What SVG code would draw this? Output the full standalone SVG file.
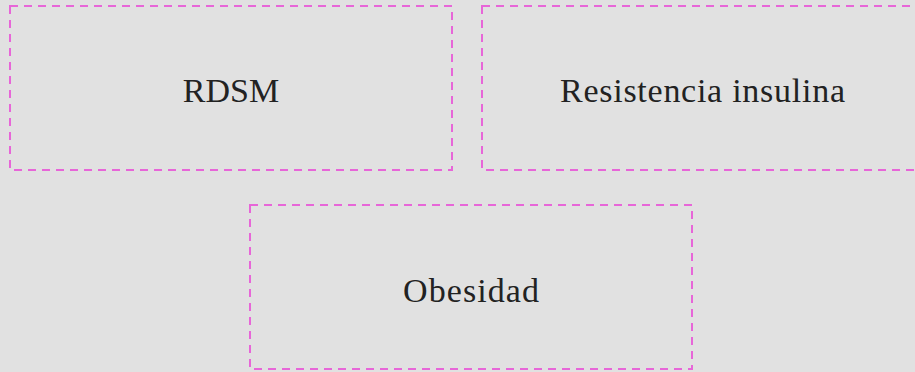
<svg xmlns="http://www.w3.org/2000/svg" width="915" height="372" viewBox="0 0 915 372">
<style>
.box{fill:none;stroke:#e766d8;stroke-width:2;stroke-dasharray:8 6}
.lbl{font-family:"Liberation Serif",serif;font-size:34px;fill:#222;text-anchor:middle}
</style>
<rect width="915" height="372" fill="#e1e1e1"/>
<g id="rdsm"><rect class="box" x="10" y="6" width="442" height="164"/><text class="lbl" x="231" y="102">RDSM</text></g>
<g id="resistencia"><rect class="box" x="482" y="6" width="442" height="164"/><text class="lbl" x="702.5" y="102" textLength="285">Resistencia insulina</text></g>
<g id="obesidad"><rect class="box" x="250" y="205" width="442" height="164"/><text class="lbl" x="471" y="302" textLength="136">Obesidad</text></g>
<g id="connectors"></g>
</svg>
